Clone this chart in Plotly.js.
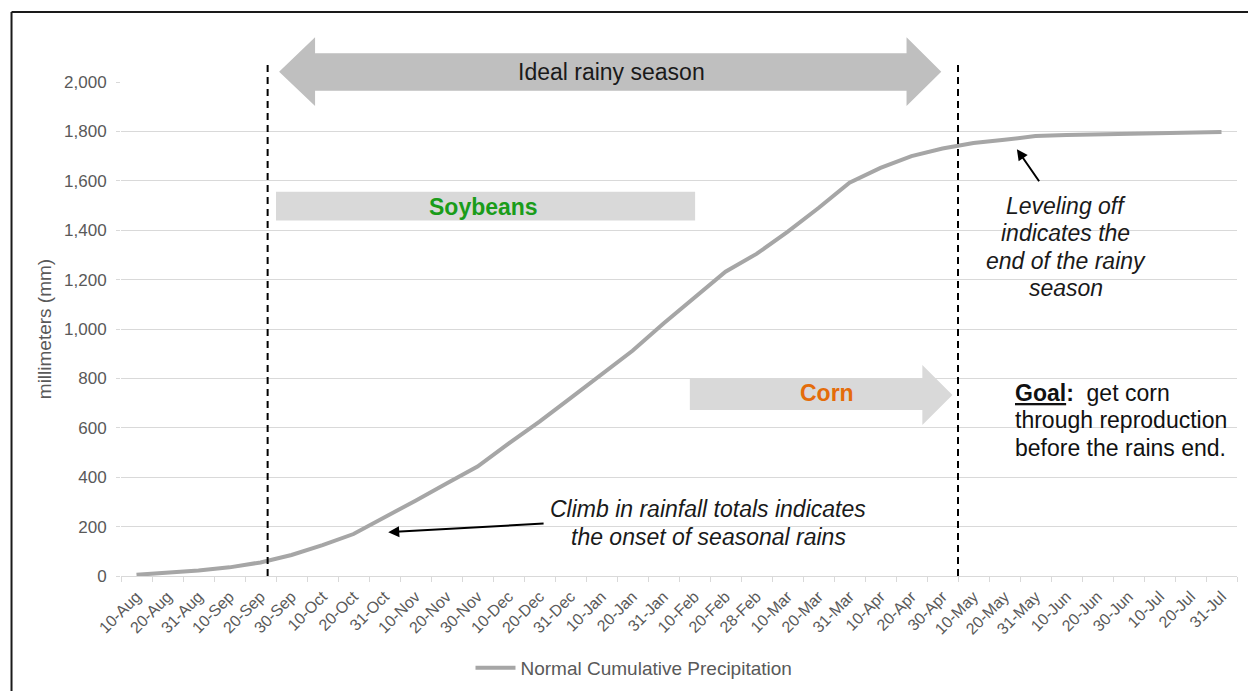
<!DOCTYPE html>
<html>
<head>
<meta charset="utf-8">
<script src="https://cdn.plot.ly/plotly-3.0.1.min.js"></script>
<style>
  html, body { margin: 0; padding: 0; background: #ffffff; }
  #chart { width: 1248px; height: 691px; }
</style>
</head>
<body>
<div id="chart"></div>
<script>
// ---- data ----
const dates = ['10-Aug','20-Aug','31-Aug','10-Sep','20-Sep','30-Sep','10-Oct','20-Oct','31-Oct',
  '10-Nov','20-Nov','30-Nov','10-Dec','20-Dec','31-Dec','10-Jan','20-Jan','31-Jan',
  '10-Feb','20-Feb','28-Feb','10-Mar','20-Mar','31-Mar','10-Apr','20-Apr','30-Apr',
  '10-May','20-May','31-May','10-Jun','20-Jun','30-Jun','10-Jul','20-Jul','31-Jul'];
const precip = [5,13,22,35,55,85,125,170,236,305,374,443,536,625,720,818,912,1022,
  1125,1232,1304,1393,1490,1592,1652,1700,1731,1753,1766,1781,1785,1788,1790,1792,1796,1798];
const seriesName = 'Normal Cumulative Precipitation';
const yTitle = 'millimeters (mm)';
const yMax = 2000;

// text blocks
const levelingLines = ['Leveling off', 'indicates the', 'end of the rainy', 'season'];
const climbLines = ['Climb in rainfall totals indicates', 'the onset of seasonal rains'];
const goalLines = ['<b><u>Goal</u>:</b>\u00a0 get corn', 'through reproduction', 'before the rains end.'];

// ---- helpers: chart units (category index, mm) -> paper ----
const nCat = dates.length;
const xp = i => (i + 0.5) / nCat;
const yp = v => v / yMax;
const pt = (i, v) => xp(i).toFixed(5) + ',' + yp(v).toFixed(5);

const FONT = 'Liberation Sans, Arial, sans-serif';
const GRID = '#d9d9d9';
const TXT = '#595959';
const DARK = '#1a1a1a';

// season boundaries (category index)
const seasonStart = 4.23, seasonEnd = 26.5;

// double-headed "Ideal rainy season" arrow
const topArrow = 'M' + pt(4.6, 2042) + ' L' + pt(5.76, 2181) + ' L' + pt(5.76, 2116) +
  ' L' + pt(24.84, 2116) + ' L' + pt(24.84, 2181) + ' L' + pt(25.96, 2042) +
  ' L' + pt(24.84, 1903) + ' L' + pt(24.84, 1965) + ' L' + pt(5.76, 1965) +
  ' L' + pt(5.76, 1903) + ' Z';
// corn arrow
const cornArrow = 'M' + pt(17.85, 800) + ' L' + pt(25.35, 800) + ' L' + pt(25.35, 854) +
  ' L' + pt(26.32, 733) + ' L' + pt(25.35, 611) + ' L' + pt(25.35, 672) +
  ' L' + pt(17.85, 672) + ' Z';

const whiteBox = (i0, i1, v0, v1) => ({type:'rect', xref:'paper', yref:'paper',
  x0:xp(i0), x1:xp(i1), y0:yp(v0), y1:yp(v1), fillcolor:'#ffffff', line:{width:0}, layer:'below'});

const shapes = [
  // frame (left + top edges)
  {type:'line', xref:'paper', yref:'paper', x0:-0.0981, x1:-0.0981, y0:1.1417, y1:-0.24,
   line:{color:DARK, width:2}},
  {type:'line', xref:'paper', yref:'paper', x0:-0.0981, x1:1.02, y0:1.1417, y1:1.1417,
   line:{color:DARK, width:2}},
  // text backgrounds
  whiteBox(27.05, 32.85, 1109, 1563),
  whiteBox(13.18, 23.73, 97, 332),
  whiteBox(27.85, 36.4, 449, 826),
  {type:'path', xref:'paper', yref:'paper', path: topArrow, fillcolor:'#bfbfbf', line:{width:0}, layer:'above'},
  {type:'rect', xref:'paper', yref:'paper', x0:xp(4.5), x1:xp(18.02), y0:yp(1439), y1:yp(1556),
   fillcolor:'#d9d9d9', line:{width:0}, layer:'below'},
  {type:'path', xref:'paper', yref:'paper', path: cornArrow, fillcolor:'#d9d9d9', line:{width:0}, layer:'below'},
  {type:'line', xref:'paper', yref:'paper', x0:xp(seasonStart), x1:xp(seasonStart), y0:yp(0), y1:yp(2081),
   line:{color:'#000000', width:2, dash:'7px,5px'}},
  {type:'line', xref:'paper', yref:'paper', x0:xp(seasonEnd), x1:xp(seasonEnd), y0:yp(0), y1:yp(2081),
   line:{color:'#000000', width:2, dash:'7px,5px'}}
];

const label = (i, v, text, size, color, xanchor) => ({xref:'paper', yref:'paper',
  x:xp(i), y:yp(v), text:text, showarrow:false, xanchor:xanchor || 'center', yanchor:'middle',
  font:{family:FONT, size:size, color:color}});

const annotations = [
  label(15.31, 2042, 'Ideal rainy season', 23, DARK),
  label(11.18, 1494, '<b>Soybeans</b>', 23, '#1a9c1a'),
  label(22.27, 742, '<b>Corn</b>', 23, '#e46c0a'),
];
const levelingY = [1498, 1389, 1275, 1166];
levelingLines.forEach((t, k) => annotations.push(label(29.98, levelingY[k], '<i>' + t + '</i>', 23, DARK)));
const climbY = [271, 158];
climbLines.forEach((t, k) => annotations.push(label(18.44, climbY[k], '<i>' + t + '</i>', 23, DARK)));
const goalY = [741, 632, 518];
goalLines.forEach((t, k) => annotations.push(label(28.28, goalY[k], t, 23, '#111111', 'left')));
// arrows
annotations.push(
  {xref:'x', yref:'y', axref:'x', ayref:'y', x:28.4, y:1728, ax:29.15, ay:1592, text:'',
   showarrow:true, arrowhead:2, arrowsize:1.1, arrowwidth:2, arrowcolor:'#000000', standoff:0},
  {xref:'x', yref:'y', axref:'x', ayref:'y', x:8.12, y:177, ax:13.18, ay:213, text:'',
   showarrow:true, arrowhead:2, arrowsize:1.1, arrowwidth:2, arrowcolor:'#000000', standoff:0}
);

const trace = {
  x: dates, y: precip, type:'scatter', mode:'lines', name: seriesName,
  line:{color:'#a6a6a6', width:4}, showlegend:true, hoverinfo:'x+y'
};

const layout = {
  width:1248, height:691,
  margin:{l:121, r:11, t:82, b:115},
  paper_bgcolor:'#ffffff', plot_bgcolor:'#ffffff',
  font:{family:FONT, color:TXT},
  showlegend:true,
  legend:{orientation:'h', xref:'container', yref:'container', x:0.377, xanchor:'left',
          y:0.0333, yanchor:'middle', itemwidth:40,
          font:{family:FONT, size:19, color:TXT}, bgcolor:'rgba(0,0,0,0)'},
  xaxis:{type:'category', range:[-0.5, nCat - 0.5], tickson:'boundaries', ticks:'outside',
         ticklen:5, tickcolor:GRID, showgrid:false, showline:true, linecolor:GRID, linewidth:1,
         tickangle:-45, ticklabelstandoff:4, tickfont:{family:FONT, size:16, color:TXT}, fixedrange:true},
  yaxis:{range:[0, yMax], dtick:200, tickformat:',d', showgrid:true, gridcolor:GRID, gridwidth:1,
         zeroline:false, showline:false, ticks:'outside', ticklen:4, tickcolor:GRID,
         ticklabelstandoff:6, tickfont:{family:FONT, size:17, color:TXT},
         title:{text:yTitle, font:{family:FONT, size:19, color:TXT}, standoff:7}, fixedrange:true},
  shapes: shapes,
  annotations: annotations
};

Plotly.newPlot('chart', [trace], layout, {displayModeBar:false, staticPlot:true});
</script>
</body>
</html>
